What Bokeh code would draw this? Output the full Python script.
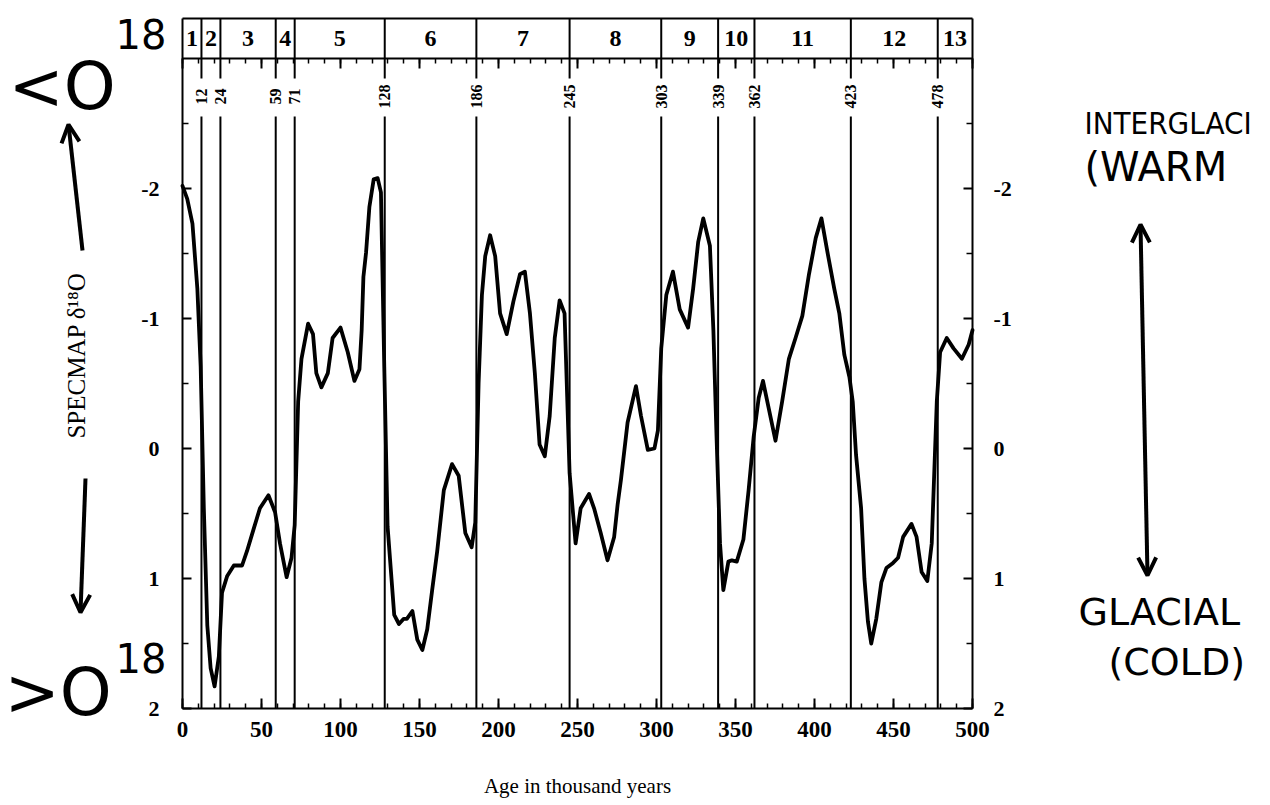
import numpy as np
from bokeh.plotting import figure
from bokeh.models import (Range1d, FixedTicker, LinearAxis, Label, Arrow,
                          OpenHead, ColumnDataSource)
from bokeh.core.properties import value
from bokeh.embed import file_html
from bokeh.resources import INLINE

# ---------------- data ----------------
age = [0, 3, 6.3, 9.4, 11.5, 13.5, 15.7, 17.8, 20.3, 23, 25, 28.3, 32.5, 37.7, 40.8,
       45, 49, 54.4, 58.6, 61.7, 65.9, 69, 71, 73.2, 75.3, 79.5, 82.6, 84.7, 87.9, 92,
       95, 100, 104.6, 108.8, 112, 113.4, 114.5, 116.2, 118.3, 121, 123.5, 125.6, 127.7,
       129.8, 134, 137, 140, 142, 145.5, 148.6, 151.8, 154.9, 158, 161.2, 165.4, 170.6,
       174.8, 179, 183, 185.3, 187.4, 189.5, 191.6, 194.7, 197.9, 201, 205.2, 209.4,
       213.6, 216.7, 219.9, 223, 226, 229.3, 232.4, 235.6, 238.7, 241.8, 245, 248.8,
       252, 257.3, 260.5, 264.7, 269, 273.2, 275.4, 277.5, 281.7, 287, 290.2, 294.5,
       298.7, 300.9, 303, 306.2, 310.4, 314.7, 320, 323.2, 326.4, 329.6, 333.8, 336,
       338, 340.2, 342.3, 345.5, 347.7, 350.8, 355, 358.3, 361.5, 364.7, 367.4, 371,
       375.3, 379.5, 383.8, 388, 392.3, 396.5, 400.8, 404.4, 408.2, 412.5, 415.7, 418.9,
       422.1, 424.2, 426.3, 429.5, 431.6, 433.8, 435.9, 439.1, 442.3, 445.5, 449.7,
       452.9, 456.1, 461.4, 464.6, 467.8, 471.4, 474.2, 477.4, 479.5, 483.7, 488, 493.3,
       497.6, 500]
d18o = [-2.02, -1.92, -1.73, -1.23, -0.63, 0.46, 1.36, 1.69, 1.83, 1.6, 1.11, 0.98, 0.90,
        0.90, 0.79, 0.62, 0.46, 0.36, 0.49, 0.73, 0.99, 0.84, 0.59, -0.36, -0.69, -0.96,
        -0.88, -0.58, -0.47, -0.58, -0.85, -0.93, -0.74, -0.52, -0.61, -0.91, -1.32,
        -1.51, -1.86, -2.07, -2.08, -1.97, -0.63, 0.6, 1.28, 1.35, 1.31, 1.31, 1.25,
        1.47, 1.55, 1.39, 1.09, 0.79, 0.32, 0.12, 0.21, 0.65, 0.76, 0.57, -0.50, -1.18,
        -1.48, -1.64, -1.48, -1.04, -0.88, -1.13, -1.34, -1.36, -1.04, -0.58, -0.03,
        0.06, -0.25, -0.85, -1.14, -1.04, 0.19, 0.73, 0.46, 0.35, 0.46, 0.65, 0.86,
        0.68, 0.43, 0.24, -0.20, -0.48, -0.25, 0.01, 0.0, -0.14, -0.77, -1.18, -1.36,
        -1.07, -0.93, -1.23, -1.59, -1.77, -1.56, -0.91, -0.09, 0.73, 1.09, 0.87, 0.86,
        0.87, 0.70, 0.32, -0.09, -0.39, -0.52, -0.31, -0.06, -0.36, -0.69, -0.85, -1.02,
        -1.34, -1.62, -1.77, -1.51, -1.23, -1.04, -0.72, -0.55, -0.36, 0.05, 0.46, 1.0,
        1.33, 1.50, 1.31, 1.03, 0.92, 0.88, 0.84, 0.68, 0.58, 0.68, 0.95, 1.02, 0.73,
        -0.36, -0.74, -0.85, -0.77, -0.69, -0.80, -0.91]

stage_bounds = [0, 12, 24, 59, 71, 128, 186, 245, 303, 339, 362, 423, 478, 500]
inner_bounds = [12, 24, 59, 71, 128, 186, 245, 303, 339, 362, 423, 478]
stage_names = ["1", "2", "3", "4", "5", "6", "7", "8", "9", "10", "11", "12", "13"]

x_major = [0, 50, 100, 150, 200, 250, 300, 350, 400, 450, 500]
x_minor = list(range(0, 501, 10))
y_major = [-2, -1, 0, 1, 2]
y_minor = [-2.5, -1.5, -0.5, 0.5, 1.5]
y_labels = ["-2", "-1", "0", "1", "2"]

X_MIN, X_MAX = 0, 500
Y_BOTTOM = 2
Y_BOX = -3.0       # bottom edge of the stage box
Y_TOP = -3.31      # top edge of the stage box

# ---------------- canvas geometry (pixel <-> data) ----------------
W, H = 1266, 800
X0, PXX = 182.0, 1.58     # px of age 0, px per kyr
Y0, PXY = 448.0, 130.0    # px of d18O 0, px per permil (downwards)
def dx(px):
    return (px - X0) / PXX
def dy(py):
    return (py - Y0) / PXY

SERIF = "Liberation Serif"
HAND = "DejaVu Sans"
HAND_NARROW = "DejaVu Sans Condensed, DejaVu Sans"

p = figure(width=W, height=H,
           x_range=Range1d(dx(0), dx(W)), y_range=Range1d(dy(H), dy(0)),
           x_axis_type=None, y_axis_type=None,
           output_backend="svg", toolbar_location=None,
           min_border_left=0, min_border_right=0, min_border_top=0, min_border_bottom=0)
p.xgrid.visible = False
p.ygrid.visible = False
p.outline_line_color = None
p.background_fill_color = "white"
p.border_fill_color = "white"

xt = FixedTicker(ticks=x_major, minor_ticks=x_minor)
yt = FixedTicker(ticks=y_major, minor_ticks=y_minor)

def base_axis(ax):
    ax.axis_line_width = 2
    ax.axis_line_color = "black"
    ax.major_tick_out = 0
    ax.minor_tick_out = 0
    ax.major_tick_line_width = 2
    ax.minor_tick_line_width = 1.5
    ax.major_label_text_font = SERIF
    ax.major_label_text_font_style = "bold"
    ax.major_label_text_color = "black"

# bottom axis
xb = LinearAxis(ticker=xt, fixed_location=Y_BOTTOM, bounds=(X_MIN, X_MAX))
base_axis(xb)
xb.major_tick_in = 10
xb.minor_tick_in = 5
xb.major_label_standoff = 13
xb.major_label_text_font_size = "23px"
p.add_layout(xb, "below")

# axis under the stage box (ticks pointing down into the plot)
xtop = LinearAxis(ticker=xt, fixed_location=Y_BOX, bounds=(X_MIN, X_MAX))
base_axis(xtop)
xtop.major_tick_in = 10
xtop.minor_tick_in = 5
xtop.major_label_text_font_size = "0px"
xtop.major_label_text_alpha = 0
p.add_layout(xtop, "above")

# top edge of the box
xedge = LinearAxis(ticker=FixedTicker(ticks=[]), fixed_location=Y_TOP, bounds=(X_MIN, X_MAX))
base_axis(xedge)
xedge.major_tick_in = 0
xedge.minor_tick_in = 0
xedge.major_label_text_alpha = 0
p.add_layout(xedge, "above")

def y_axis(loc, side, standoff):
    ax = LinearAxis(ticker=yt, fixed_location=loc, bounds=(Y_TOP, Y_BOTTOM))
    base_axis(ax)
    ax.major_tick_in = 9
    ax.minor_tick_in = 6
    ax.major_label_standoff = standoff
    ax.major_label_text_font_size = "22px"
    ax.major_label_overrides = {v: s for v, s in zip(y_major, y_labels)}
    p.add_layout(ax, side)

y_axis(X_MIN, "left", 23)
y_axis(X_MAX, "right", 21)

# stage numbers in the box
mids = [(a + b) / 2 for a, b in zip(stage_bounds[:-1], stage_bounds[1:])]
p.text(x=mids, y=[(Y_TOP + Y_BOX) / 2] * len(mids), text=stage_names,
       text_align="center", text_baseline="middle", text_font=value(SERIF),
       text_font_style="bold", text_font_size="24px", text_color="black")

# stage boundary lines, broken where the rotated ages are written
gap_top, gap_bot, lab_y = dy(78), dy(116), dy(96)
n = len(inner_bounds)
p.segment(x0=inner_bounds, y0=[Y_TOP] * n, x1=inner_bounds, y1=[gap_top] * n,
          line_color="black", line_width=2)
p.segment(x0=inner_bounds, y0=[gap_bot] * n, x1=inner_bounds, y1=[Y_BOTTOM] * n,
          line_color="black", line_width=2)
p.text(x=inner_bounds, y=[lab_y] * n, text=[str(b) for b in inner_bounds],
       angle=np.pi / 2, text_align="center", text_baseline="middle",
       text_font=value(SERIF), text_font_style="bold", text_font_size="16px",
       text_color="black")

# the SPECMAP curve
src = ColumnDataSource(dict(age=age, d18o=d18o))
p.line("age", "d18o", source=src, line_color="black", line_width=3.8,
       line_join="round", line_cap="round")

# axis titles
p.add_layout(Label(x=dx(76), y=dy(355), text="SPECMAP δ¹⁸O", angle=np.pi / 2,
                   text_align="center", text_baseline="middle", text_font=SERIF,
                   text_font_size="25px", text_color="black"))
p.add_layout(Label(x=(X_MIN + X_MAX) / 2, y=dy(785), text="Age in thousand years",
                   text_align="center", text_baseline="middle", text_font=SERIF,
                   text_font_size="21px", text_color="black"))

# handwritten annotations
def hand(text, px, py, size, font=HAND, align="left"):
    p.add_layout(Label(x=dx(px), y=dy(py), text=text, text_align=align,
                       text_baseline="middle", text_font=font,
                       text_font_size=size, text_color="black"))

hand("<O", 8, 86, "66px")
hand("18", 115, 33, "40px")
hand(">O", 4, 692, "66px")
hand("18", 115, 657, "40px")
hand("INTERGLACI", 1084, 122, "31px", font=HAND_NARROW)
hand("(WARM", 1084, 166, "40px")
hand("GLACIAL", 1078, 611, "38px")
hand("(COLD)", 1108, 661, "38px")

def arrow(x0, y0, x1, y1, both=False):
    p.add_layout(Arrow(x_start=dx(x0), y_start=dy(y0), x_end=dx(x1), y_end=dy(y1),
                       end=OpenHead(size=18, line_width=4, line_color="black"),
                       start=OpenHead(size=18, line_width=4, line_color="black") if both else None,
                       line_width=4, line_color="black"))

arrow(82, 250, 68, 124)
arrow(85, 478, 80, 612)
arrow(1140, 224, 1147, 575, both=True)

open("out.html", "w").write(file_html(p, INLINE))
